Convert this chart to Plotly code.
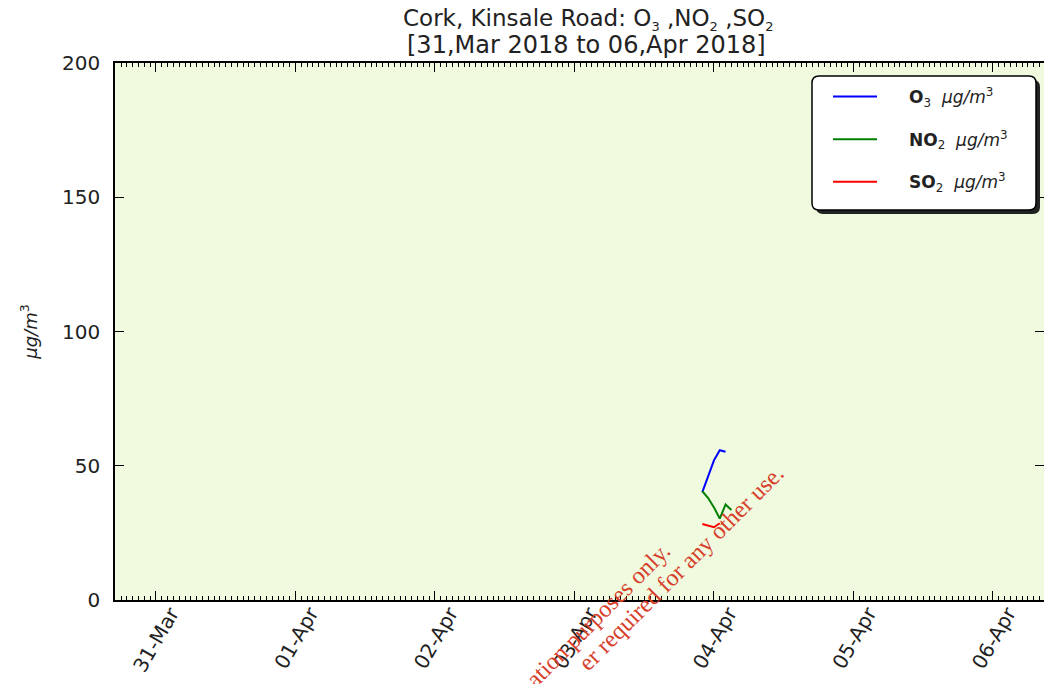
import plotly.graph_objects as go

# ---- data ----
o3_times = ["2018-04-03 22:00", "2018-04-03 23:00", "2018-04-04 00:00", "2018-04-04 01:00", "2018-04-04 02:00"]
o3_values = [40.2, 46.0, 52.0, 55.8, 55.2]

no2_times = ["2018-04-03 22:00", "2018-04-03 23:00", "2018-04-04 00:00", "2018-04-04 01:00", "2018-04-04 02:00", "2018-04-04 03:00"]
no2_values = [40.5, 38.0, 34.5, 30.3, 35.6, 33.5]

so2_times = ["2018-04-03 22:00", "2018-04-03 23:00", "2018-04-04 00:00", "2018-04-04 01:00"]
so2_values = [28.3, 27.6, 27.1, 28.6]

tick_start = "2018-03-31"
x_range = ["2018-03-30 16:57", "2018-04-06 08:47"]
y_range = [0, 200]

_s = "<sub><span style='font-size:13px'>{}</span></sub>"
title_line1 = "Cork, Kinsale Road: O" + _s.format(3) + " ,NO" + _s.format(2) + " ,SO" + _s.format(2)
title_line2 = "[31,Mar 2018 to 06,Apr 2018]"
watermark_line1 = "ation purposes only."
watermark_line2 = "er required for any other use."

W, H = 1044, 684
L, R, T, B = 115, 1044, 63, 600


def fx(px):
    return (px - L) / (R - L)


def fy(py):
    return (B - py) / (B - T)


def rounded_rect(x0, y0, x1, y1, r):
    p = lambda x, y: f"{fx(x):.5f},{fy(y):.5f}"
    d = f"M{p(x0 + r, y0)} L{p(x1 - r, y0)} Q{p(x1, y0)} {p(x1, y0 + r)} "
    d += f"L{p(x1, y1 - r)} Q{p(x1, y1)} {p(x1 - r, y1)} "
    d += f"L{p(x0 + r, y1)} Q{p(x0, y1)} {p(x0, y1 - r)} "
    d += f"L{p(x0, y0 + r)} Q{p(x0, y0)} {p(x0 + r, y0)} Z"
    return d


unit = "  <i>μg/m</i><sup>3</sup>"
pad = "&nbsp;" * 5

fig = go.Figure()
fig.add_trace(go.Scatter(x=o3_times, y=o3_values, mode="lines", name=pad + "<b>O</b><sub>3</sub>" + unit,
                         line=dict(color="#0000ff", width=2), legendgroup="a"))
fig.add_trace(go.Scatter(x=no2_times, y=no2_values, mode="lines", name=pad + "<b>NO</b><sub>2</sub>" + unit,
                         line=dict(color="#008000", width=2), legendgroup="b"))
fig.add_trace(go.Scatter(x=so2_times, y=so2_values, mode="lines", name=pad + "<b>SO</b><sub>2</sub>" + unit,
                         line=dict(color="#ff0000", width=2), legendgroup="c"))

shapes = [
    dict(type="path", xref="paper", yref="paper", path=rounded_rect(816, 80, 1040, 214, 7),
         fillcolor="#222222", line=dict(width=0), layer="above"),
    dict(type="path", xref="paper", yref="paper", path=rounded_rect(812, 76, 1036, 210, 7),
         fillcolor="white", line=dict(color="black", width=1.5), layer="above"),
]

wm_font = dict(family="Liberation Serif", size=24, color="#d6402a")
annotations = [
    dict(text=title_line1, xref="paper", yref="paper", x=fx(588), y=fy(19),
         xanchor="center", yanchor="middle", showarrow=False,
         font=dict(family="DejaVu Sans", size=23, color="#222222")),
    dict(text=title_line2, xref="paper", yref="paper", x=fx(586), y=fy(45),
         xanchor="center", yanchor="middle", showarrow=False,
         font=dict(family="DejaVu Sans", size=24, color="#222222")),
    dict(text=watermark_line1, xref="paper", yref="paper", x=fx(598), y=fy(615),
         xanchor="center", yanchor="middle", textangle=-45, showarrow=False, font=wm_font),
    dict(text=watermark_line2, xref="paper", yref="paper", x=fx(681), y=fy(568),
         xanchor="center", yanchor="middle", textangle=-45, showarrow=False, font=wm_font),
]

fig.update_layout(
    width=W, height=H,
    margin=dict(l=L, r=W - R, t=T, b=H - B, pad=0, autoexpand=False),
    paper_bgcolor="white",
    plot_bgcolor="#F0FADF",
    font=dict(family="DejaVu Sans", color="#222222", size=18),
    showlegend=True,
    legend=dict(x=fx(828), y=fy(79), xanchor="left", yanchor="top", bgcolor="rgba(0,0,0,0)",
                borderwidth=0, tracegroupgap=17.5, itemwidth=44,
                font=dict(family="DejaVu Sans", size=17, color="#222222")),
    shapes=shapes,
    annotations=annotations,
)

fig.update_xaxes(
    type="date", range=x_range, tick0=tick_start, dtick=86400000, tickformat="%d-%b",
    tickangle=-60, ticks="inside", ticklen=9, tickwidth=1, tickcolor="black",
    minor=dict(dtick=3600000, ticks="inside", ticklen=4, tickcolor="black", tickwidth=1),
    showline=True, linecolor="black", linewidth=1.5, mirror="ticks", showgrid=False, zeroline=False,
    tickfont=dict(family="DejaVu Sans", size=20, color="#222222"), automargin=False,
    ticklabelshift=15, ticklabelstandoff=-8,
)
fig.update_yaxes(
    range=y_range, dtick=50, ticks="inside", ticklen=9, tickwidth=1, tickcolor="black",
    showline=True, linecolor="black", linewidth=1.5, mirror="ticks", showgrid=False, zeroline=False,
    tickfont=dict(family="DejaVu Sans", size=20, color="#222222"), ticklabelstandoff=9,
    title=dict(text="<i>μg/m</i><sup>3</sup>", standoff=20,
               font=dict(family="DejaVu Sans", size=18, color="#222222")),
    automargin=False,
)

fig.write_html("out.html", config={"displayModeBar": False},
               post_script="document.body.style.margin='0px';")
